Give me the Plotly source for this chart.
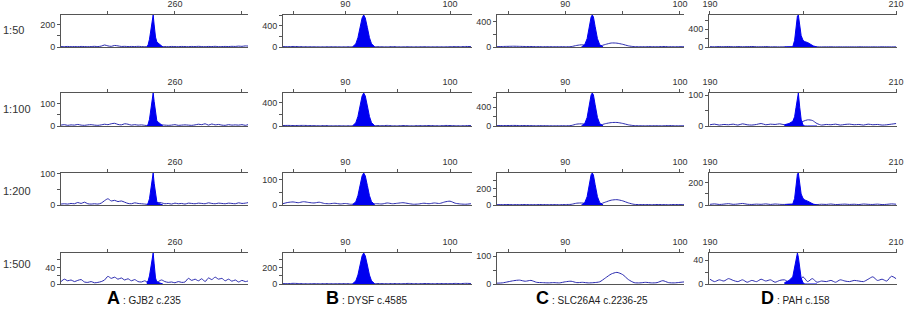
import plotly.graph_objects as go

W, H = 906, 311

# ---------------- data ----------------
rows = ["1:50", "1:100", "1:200", "1:500"]
cols = ["A", "B", "C", "D"]
col_titles = [": GJB2 c.235", ": DYSF c.4585", ": SLC26A4 c.2236-25", ": PAH c.158"]

# x sampling (bp) for each column
x_A = [243.0, 243.5, 244.0, 244.5, 245.0, 245.5, 246.0, 246.5, 247.0, 247.5,
       248.0, 248.5, 249.0, 249.5, 250.0, 250.5, 251.0, 251.5, 252.0, 252.5,
       253.0, 253.5, 254.0, 254.5, 255.0, 255.5, 256.0, 256.5, 257.0, 257.5,
       258.0, 258.5, 259.0, 259.5, 260.0, 260.5, 261.0, 261.5, 262.0, 262.5,
       263.0, 263.5, 264.0, 264.5, 265.0, 265.5, 266.0, 266.5, 267.0, 267.5,
       268.0, 268.5, 269.0, 269.5, 270.0, 270.5, 271.0]
x_B = [84.0, 84.5, 85.0, 85.5, 86.0, 86.5, 87.0, 87.5, 88.0, 88.5,
       89.0, 89.5, 90.0, 90.5, 91.0, 91.5, 92.0, 92.5, 93.0, 93.5,
       94.0, 94.5, 95.0, 95.5, 96.0, 96.5, 97.0, 97.5, 98.0, 98.5,
       99.0, 99.5, 100.0, 100.5, 101.0, 101.5, 102.0]
x_C = [84.0, 84.5, 85.0, 85.5, 86.0, 86.5, 87.0, 87.5, 88.0, 88.5,
       89.0, 89.5, 90.0, 90.5, 91.0, 91.5, 92.0, 92.5, 93.0, 93.5,
       94.0, 94.5, 95.0, 95.5, 96.0, 96.5, 97.0, 97.5, 98.0, 98.5,
       99.0, 99.5, 100.0, 100.5]
x_D = [190.0, 190.5, 191.0, 191.5, 192.0, 192.5, 193.0, 193.5, 194.0, 194.5,
       195.0, 195.5, 196.0, 196.5, 197.0, 197.5, 198.0, 198.5, 199.0, 199.5,
       200.0, 200.5, 201.0, 201.5, 202.0, 202.5, 203.0, 203.5, 204.0, 204.5,
       205.0, 205.5, 206.0, 206.5, 207.0, 207.5, 208.0, 208.5, 209.0, 209.5,
       210.0]

# background (noise / outline) signal
noise_A_50 = [4, 3, 5, 3, 4, 3, 5, 4, 3, 4, 6, 4, 8, 18, 10, 6, 14, 10, 5, 6,
              4, 5, 4, 6, 4, 3, 2, 2, 2, 3, 4, 4, 3, 5, 4, 3, 5, 4, 3, 5,
              4, 6, 4, 3, 5, 4, 6, 3, 4, 5, 4, 6, 5, 8, 6, 10, 8]
noise_A_100 = [4, 6, 3, 5, 4, 7, 4, 3, 5, 6, 4, 3, 5, 8, 6, 10, 12, 7, 5, 10,
               8, 4, 6, 4, 5, 3, 2, 2, 2, 3, 5, 4, 3, 4, 6, 3, 4, 5, 4, 3,
               5, 8, 6, 10, 4, 9, 5, 7, 4, 3, 6, 4, 5, 4, 6, 3, 7]
noise_A_200 = [3, 4, 3, 5, 4, 8, 5, 9, 4, 3, 4, 3, 6, 14, 20, 13, 15, 11, 13, 9,
               5, 4, 7, 5, 4, 3, 2, 2, 3, 8, 7, 4, 5, 3, 6, 4, 5, 3, 6, 5,
               4, 6, 5, 4, 7, 5, 4, 6, 5, 4, 6, 5, 4, 7, 5, 6, 8]
noise_A_500 = [6, 12, 8, 10, 6, 9, 11, 5, 4, 6, 3, 4, 6, 10, 19, 14, 17, 12, 15, 10,
               13, 8, 11, 6, 5, 8, 4, 3, 4, 6, 10, 6, 4, 5, 3, 6, 4, 5, 14, 9,
               12, 8, 13, 6, 15, 11, 17, 12, 14, 8, 12, 7, 10, 5, 9, 6, 8]

noise_B_50 = [8, 6, 10, 8, 6, 5, 4, 3, 4, 5, 4, 3, 4, 5, 3, 3, 3, 4, 6, 4,
              3, 8, 4, 3, 5, 3, 4, 5, 3, 4, 4, 3, 5, 8, 6, 10, 8]
noise_B_100 = [8, 10, 8, 9, 10, 8, 6, 4, 8, 4, 3, 4, 3, 4, 3, 3, 3, 4, 8, 5,
               10, 4, 3, 8, 4, 3, 7, 5, 8, 6, 4, 9, 8, 5, 4, 6, 8]
noise_B_200 = [5, 10, 12, 9, 13, 10, 8, 11, 6, 5, 7, 4, 6, 3, 4, 3, 3, 4, 5, 4,
               8, 5, 7, 9, 6, 3, 4, 7, 5, 8, 6, 12, 15, 7, 4, 3, 5]
noise_B_500 = [5, 4, 8, 6, 4, 3, 4, 3, 5, 4, 3, 4, 5, 3, 3, 3, 3, 4, 6, 5,
               4, 6, 5, 4, 7, 5, 4, 6, 5, 4, 6, 5, 4, 7, 5, 8, 6]

noise_C_50 = [5, 8, 10, 12, 10, 8, 8, 6, 5, 5, 4, 5, 4, 6, 25, 35, 15, 15, 15, 40,
              62, 60, 42, 18, 6, 4, 5, 6, 4, 8, 5, 4, 5, 4]
noise_C_100 = [8, 10, 10, 12, 10, 10, 8, 6, 8, 5, 4, 6, 5, 10, 40, 45, 20, 20, 18, 50,
               72, 75, 55, 25, 8, 5, 4, 6, 5, 4, 10, 5, 4, 6]
noise_C_200 = [4, 5, 6, 4, 5, 6, 4, 5, 6, 4, 5, 4, 6, 8, 22, 24, 12, 12, 12, 35,
               58, 64, 50, 25, 8, 5, 6, 4, 6, 5, 4, 6, 5, 4]
noise_C_500 = [3, 4, 8, 12, 14, 10, 13, 6, 5, 4, 5, 4, 8, 10, 5, 6, 4, 5, 8, 22,
               36, 42, 34, 16, 5, 4, 6, 4, 5, 12, 5, 4, 6, 8]

noise_D_50 = [8, 5, 10, 6, 12, 5, 10, 6, 8, 12, 6, 5, 10, 4, 5, 3, 4, 3, 5, 5,
              5, 4, 3, 4, 3, 4, 5, 3, 4, 3, 4, 3, 5, 4, 3, 4, 3, 5, 4, 3, 4]
noise_D_100 = [4, 6, 3, 5, 4, 6, 3, 7, 4, 3, 5, 8, 4, 6, 5, 7, 4, 3, 5, 6,
               15, 20, 18, 8, 3, 5, 4, 6, 3, 5, 6, 4, 5, 3, 6, 4, 5, 3, 4, 6, 8]
noise_D_200 = [6, 10, 5, 8, 12, 6, 9, 14, 7, 5, 8, 6, 10, 5, 9, 6, 5, 8, 6, 5,
               5, 8, 6, 4, 7, 5, 9, 4, 6, 8, 5, 7, 4, 9, 6, 5, 8, 4, 6, 10, 7]
noise_D_500 = [8, 4, 7, 5, 9, 6, 4, 7, 3, 6, 4, 8, 5, 7, 3, 6, 7, 3, 4, 3,
               12, 4, 9, 3, 5, 4, 6, 3, 7, 5, 4, 6, 5, 4, 8, 12, 6, 8, 5, 13, 9]

# called (filled) peaks
peak_x_A = [255.8, 256.0, 256.2, 256.4, 256.6, 256.75, 256.9, 257.1, 257.3, 257.6, 257.9, 258.2]
peak_A_50 = [0, 20, 70, 170, 260, 290, 200, 90, 45, 30, 15, 0]
peak_A_100 = [0, 8, 30, 80, 130, 148, 110, 50, 22, 15, 8, 0]
peak_A_200 = [0, 6, 20, 55, 90, 103, 70, 30, 10, 5, 3, 0]
peak_A_500 = [3, 8, 20, 45, 70, 77, 50, 15, 5, 3, 2, 0]

peak_x_B = [90.7, 91.0, 91.2, 91.4, 91.6, 91.75, 91.9, 92.1, 92.3, 92.5, 92.8]
peak_B_50 = [5, 60, 175, 365, 545, 600, 545, 365, 175, 60, 5]
peak_B_100 = [5, 56, 162, 340, 510, 560, 510, 340, 162, 56, 5]
peak_B_200 = [2, 13, 37, 77, 115, 126, 115, 77, 37, 13, 2]
peak_B_500 = [4, 38, 109, 229, 341, 375, 341, 229, 109, 38, 4]

peak_x_C = [91.4, 91.7, 91.9, 92.1, 92.25, 92.35, 92.45, 92.6, 92.8, 93.0, 93.3]
peak_C_50 = [0, 40, 130, 330, 470, 500, 470, 320, 130, 35, 0]
peak_C_100 = [0, 55, 180, 460, 660, 700, 660, 450, 180, 50, 0]
peak_C_200 = [0, 30, 100, 255, 365, 385, 360, 245, 100, 28, 0]
peak_C_500 = None  # no called peak at 1:500

peak_x_D = [198.0, 198.5, 198.9, 199.1, 199.25, 199.4, 199.5, 199.65, 199.8, 200.0,
            200.2, 200.5, 200.8, 201.1, 201.5]
peak_D_50 = [0, 0, 5, 150, 450, 700, 720, 500, 260, 150, 120, 100, 60, 25, 0]
peak_D_100 = [4, 8, 15, 30, 60, 98, 107, 60, 22, 3, 0, 0, 0, 0, 0]
peak_D_200 = [0, 3, 8, 60, 180, 280, 290, 200, 100, 60, 45, 35, 20, 8, 0]
peak_D_500 = [2, 6, 12, 30, 42, 52, 45, 25, 10, 2, 0, 0, 0, 0, 0]

# axis maxima and tick labels
ymax = {
    "A": [290, 148, 103, 77],
    "B": [600, 560, 126, 375],
    "C": [500, 700, 385, 112],
    "D": [720, 107, 290, 52],
}
ytick_step = {
    "A": [100, 50, 50, 20],
    "B": [200, 200, 50, 100],
    "C": [200, 200, 100, 50],
    "D": [200, 50, 100, 20],
}
ytick_label = {
    "A": [200, 100, 100, 40],
    "B": [400, 400, 100, 200],
    "C": [400, 400, 200, 100],
    "D": [400, 100, 200, 40],
}
x_ticks = {
    "A": ([250, 260, 270], ["", "260", ""]),
    "B": ([85, 90, 95, 100], ["", "90", "", "100"]),
    "C": ([85, 90, 95, 100], ["", "90", "", "100"]),
    "D": ([190, 200, 210], ["190", "", "210"]),
}
x_range = {"A": [243.0, 270.9], "B": [84.04, 102.1], "C": [84.04, 100.35], "D": [189.9, 210.1]}

x_grid = {"A": x_A, "B": x_B, "C": x_C, "D": x_D}
noise = {
    "A": [noise_A_50, noise_A_100, noise_A_200, noise_A_500],
    "B": [noise_B_50, noise_B_100, noise_B_200, noise_B_500],
    "C": [noise_C_50, noise_C_100, noise_C_200, noise_C_500],
    "D": [noise_D_50, noise_D_100, noise_D_200, noise_D_500],
}
peak_x = {"A": peak_x_A, "B": peak_x_B, "C": peak_x_C, "D": peak_x_D}
peaks = {
    "A": [peak_A_50, peak_A_100, peak_A_200, peak_A_500],
    "B": [peak_B_50, peak_B_100, peak_B_200, peak_B_500],
    "C": [peak_C_50, peak_C_100, peak_C_200, peak_C_500],
    "D": [peak_D_50, peak_D_100, peak_D_200, peak_D_500],
}

# ---------------- layout geometry (pixels) ----------------
col_px = {"A": (61, 248), "B": (283, 472), "C": (497, 684), "D": (709, 897)}
row_px = [(15, 47), (93, 126), (173, 205), (253, 284)]
row_label_y = [30, 109, 191, 264]
letter_right_px = {"A": 121, "B": 340, "C": 550, "D": 775}

FONT = "Liberation Sans, Arial, sans-serif"
AXC = "#555555"
NOISE_C = "#2a2ab0"
PEAK_C = "#0000f0"

fig = go.Figure()
layout = dict(
    width=W, height=H, autosize=False,
    margin=dict(l=0, r=0, t=0, b=0, pad=0, autoexpand=False),
    paper_bgcolor="white", plot_bgcolor="white",
    showlegend=False,
    font=dict(family=FONT, size=9, color="#333333"),
)

k = 0
for ri, rname in enumerate(rows):
    for c in cols:
        k += 1
        xa = "x" if k == 1 else f"x{k}"
        ya = "y" if k == 1 else f"y{k}"
        fig.add_trace(go.Scatter(
            x=x_grid[c], y=noise[c][ri], xaxis=xa, yaxis=ya, mode="lines",
            line=dict(color=NOISE_C, width=1, shape="spline", smoothing=0.7),
            hoverinfo="skip"))
        if peaks[c][ri] is not None:
            fig.add_trace(go.Scatter(
                x=peak_x[c], y=peaks[c][ri], xaxis=xa, yaxis=ya, mode="lines",
                line=dict(color=PEAK_C, width=1), fill="tozeroy", fillcolor=PEAK_C,
                hoverinfo="skip"))
        x0, x1 = col_px[c]
        t0, t1 = row_px[ri]
        ym = ymax[c][ri]
        st = ytick_step[c][ri]
        tv = []
        v = 0
        while v <= ym + 1e-9:
            tv.append(v)
            v += st
        tt = [str(t) if (t == 0 or t == ytick_label[c][ri]) else "" for t in tv]
        sfx = "" if k == 1 else str(k)
        layout["xaxis" + sfx] = dict(
            domain=[x0 / W, x1 / W], range=x_range[c], side="top",
            anchor=ya, showline=True, linecolor=AXC, linewidth=1, mirror=True,
            ticks="outside", ticklen=3, tickcolor=AXC, tickwidth=1,
            tickvals=x_ticks[c][0], ticktext=x_ticks[c][1],
            tickfont=dict(size=9, color="#333333", family=FONT),
            showgrid=False, zeroline=False, fixedrange=True, automargin=False)
        layout["yaxis" + sfx] = dict(
            domain=[1 - t1 / H, 1 - t0 / H], range=[0, ym],
            anchor=xa, showline=True, linecolor=AXC, linewidth=1,
            ticks="outside", ticklen=3, tickcolor=AXC, tickwidth=1,
            tickvals=tv, ticktext=tt,
            tickfont=dict(size=9, color="#333333", family=FONT),
            showgrid=False, zeroline=False, fixedrange=True, automargin=False)

ann = []
for ri, rname in enumerate(rows):
    ann.append(dict(text=rname, x=2 / W, y=1 - row_label_y[ri] / H, xref="paper", yref="paper",
                    xanchor="left", yanchor="middle", showarrow=False, borderpad=0,
                    font=dict(size=11, color="#333333", family=FONT)))
for c, title in zip(cols, col_titles):
    xr = letter_right_px[c]
    ann.append(dict(text=f"<b>{c}</b>", x=xr / W, y=1 - 298 / H, xref="paper", yref="paper",
                    xanchor="right", yanchor="middle", showarrow=False, borderpad=0,
                    font=dict(size=18, color="#000000", family=FONT)))
    ann.append(dict(text=title, x=(xr + 1) / W, y=1 - 300 / H, xref="paper", yref="paper",
                    xanchor="left", yanchor="middle", showarrow=False, borderpad=0,
                    font=dict(size=10, color="#222222", family=FONT)))
layout["annotations"] = ann

fig.update_layout(**layout)
# remove the browser's default 8px page margin so the figure sits at the window origin
fig.write_html("out.html",
               config={"displayModeBar": False, "staticPlot": True},
               post_script="document.body.style.margin='0px';document.body.style.overflow='hidden';")
